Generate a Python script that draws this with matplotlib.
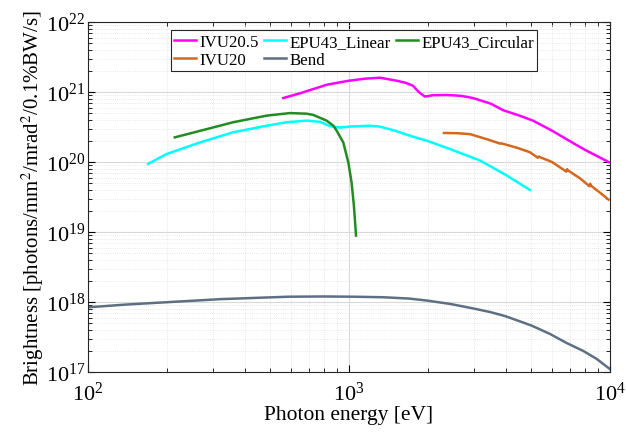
import numpy as np
import matplotlib
matplotlib.use('Agg')
from matplotlib import pyplot as plt

# data (photon energy in eV, brightness)
ivu205_e = [560, 650, 822, 1000, 1150, 1316, 1524, 1650, 1758, 1850, 1954, 2100, 2372, 2700, 2985, 3500, 3890, 4500, 5070, 6000, 6840, 8000, 9880]
ivu205_b = [8.2e20, 9.6e20, 1.27e21, 1.45e21, 1.55e21, 1.6e21, 1.45e21, 1.35e21, 1.23e21, 1.0e21, 8.6e20, 9.0e20, 9.06e20, 8.8e20, 8.2e20, 6.8e20, 5.5e20, 4.6e20, 3.9e20, 2.8e20, 2.1e20, 1.5e20, 1.0e20]

epu_lin_e = [170, 200, 268, 360, 484, 577, 689, 774, 846, 924, 1000, 1101, 1200, 1316, 1500, 1758, 2000, 2440, 3180, 4000, 4930]
epu_lin_b = [9.4e19, 1.3e20, 1.9e20, 2.66e20, 3.3e20, 3.7e20, 3.9e20, 3.75e20, 3.25e20, 3.1e20, 3.2e20, 3.25e20, 3.3e20, 3.2e20, 2.8e20, 2.3e20, 2.0e20, 1.53e20, 1.05e20, 6.5e19, 4.0e19]

epu_circ_e = [215, 280, 360, 484, 594, 689, 730, 821, 871, 897, 951, 994, 1023, 1044, 1064]
epu_circ_b = [2.25e20, 2.9e20, 3.7e20, 4.6e20, 5.0e20, 4.9e20, 4.7e20, 3.9e20, 3.3e20, 2.8e20, 1.9e20, 9.9e19, 5.1e19, 2.4e19, 8.9e18]

ivu20_e = [2311, 2600, 2910, 3400, 3790, 3830, 4400, 4930, 5290, 5340, 5400, 6000, 6800, 6850, 6900, 7700, 8350, 8400, 8450, 9200, 9880]
ivu20_b = [2.6e20, 2.58e20, 2.5e20, 2.1e20, 1.83e20, 1.85e20, 1.6e20, 1.38e20, 1.15e20, 1.2e20, 1.17e20, 1.0e20, 7.3e19, 7.9e19, 7.6e19, 5.8e19, 4.5e19, 4.9e19, 4.6e19, 3.6e19, 2.9e19]

bend_e = [100, 140, 197, 324, 583, 800, 1052, 1352, 1700, 1986, 2437, 2990, 3470, 3960, 4390, 5010, 5890, 6820, 7900, 8890, 10000]
bend_b = [8.4e17, 9.2e17, 9.9e17, 1.1e18, 1.19e18, 1.2e18, 1.19e18, 1.17e18, 1.12e18, 1.05e18, 9.4e17, 8.1e17, 7.2e17, 6.3e17, 5.5e17, 4.6e17, 3.5e17, 2.6e17, 2.0e17, 1.54e17, 1.1e17]

plt.rcParams['font.family'] = ['Liberation Serif', 'DejaVu Serif']
plt.rcParams['mathtext.fontset'] = 'stix'

fig = plt.figure(figsize=(6.26, 4.39), dpi=100)
ax = fig.add_axes([0.1406, 0.1503, 0.8338, 0.7973])

l1, = ax.plot(ivu205_e, ivu205_b, color='#ff00ff', lw=1.8, label='IVU20.5')
l2, = ax.plot(epu_lin_e, epu_lin_b, color='#00ffff', lw=1.8, label='EPU43_Linear')
l3, = ax.plot(epu_circ_e, epu_circ_b, color='#228b22', lw=1.8, label='EPU43_Circular')
l4, = ax.plot(ivu20_e, ivu20_b, color='#d2691e', lw=1.8, label='IVU20')
l5, = ax.plot(bend_e, bend_b, color='#5f6f82', lw=1.8, label='Bend')

ax.set_xscale('log')
ax.set_yscale('log')
ax.set_xlim(1e2, 1e4)
ax.set_ylim(1e17, 1e22)

ax.grid(True, which='major', color='#d9d9d9', lw=0.8, ls='-')
ax.grid(True, which='minor', color='#e0e0e0', lw=0.6, ls=':')
ax.set_axisbelow(True)
ax.tick_params(which='both', direction='in', top=True, right=True, labelsize=16)
ax.tick_params(axis='x', pad=7)
ax.tick_params(axis='y', pad=2)
ax.tick_params(which='major', length=5)
ax.tick_params(which='minor', length=3)
for s in ax.spines.values():
    s.set_color('#262626')

ax.set_xlabel('Photon energy [eV]', fontsize=15.5, labelpad=0)
ax.set_ylabel('Brightness [photons/mm$^2$/mrad$^2$/0.1%BW/s]', fontsize=15, labelpad=0)

leg = ax.legend([l1, l4, l2, l5, l3], ['IVU20.5', 'IVU20', 'EPU43_Linear', 'Bend', 'EPU43_Circular'],
                ncol=3, loc='upper center', bbox_to_anchor=(0.51, 1.0), fontsize=12.2,
                handlelength=1.3, handletextpad=0.2, columnspacing=0.3, labelspacing=0.1,
                borderpad=0.2, fancybox=False, framealpha=1, edgecolor='#262626')
leg.get_frame().set_linewidth(0.8)

plt.savefig('out.png', dpi=100)
